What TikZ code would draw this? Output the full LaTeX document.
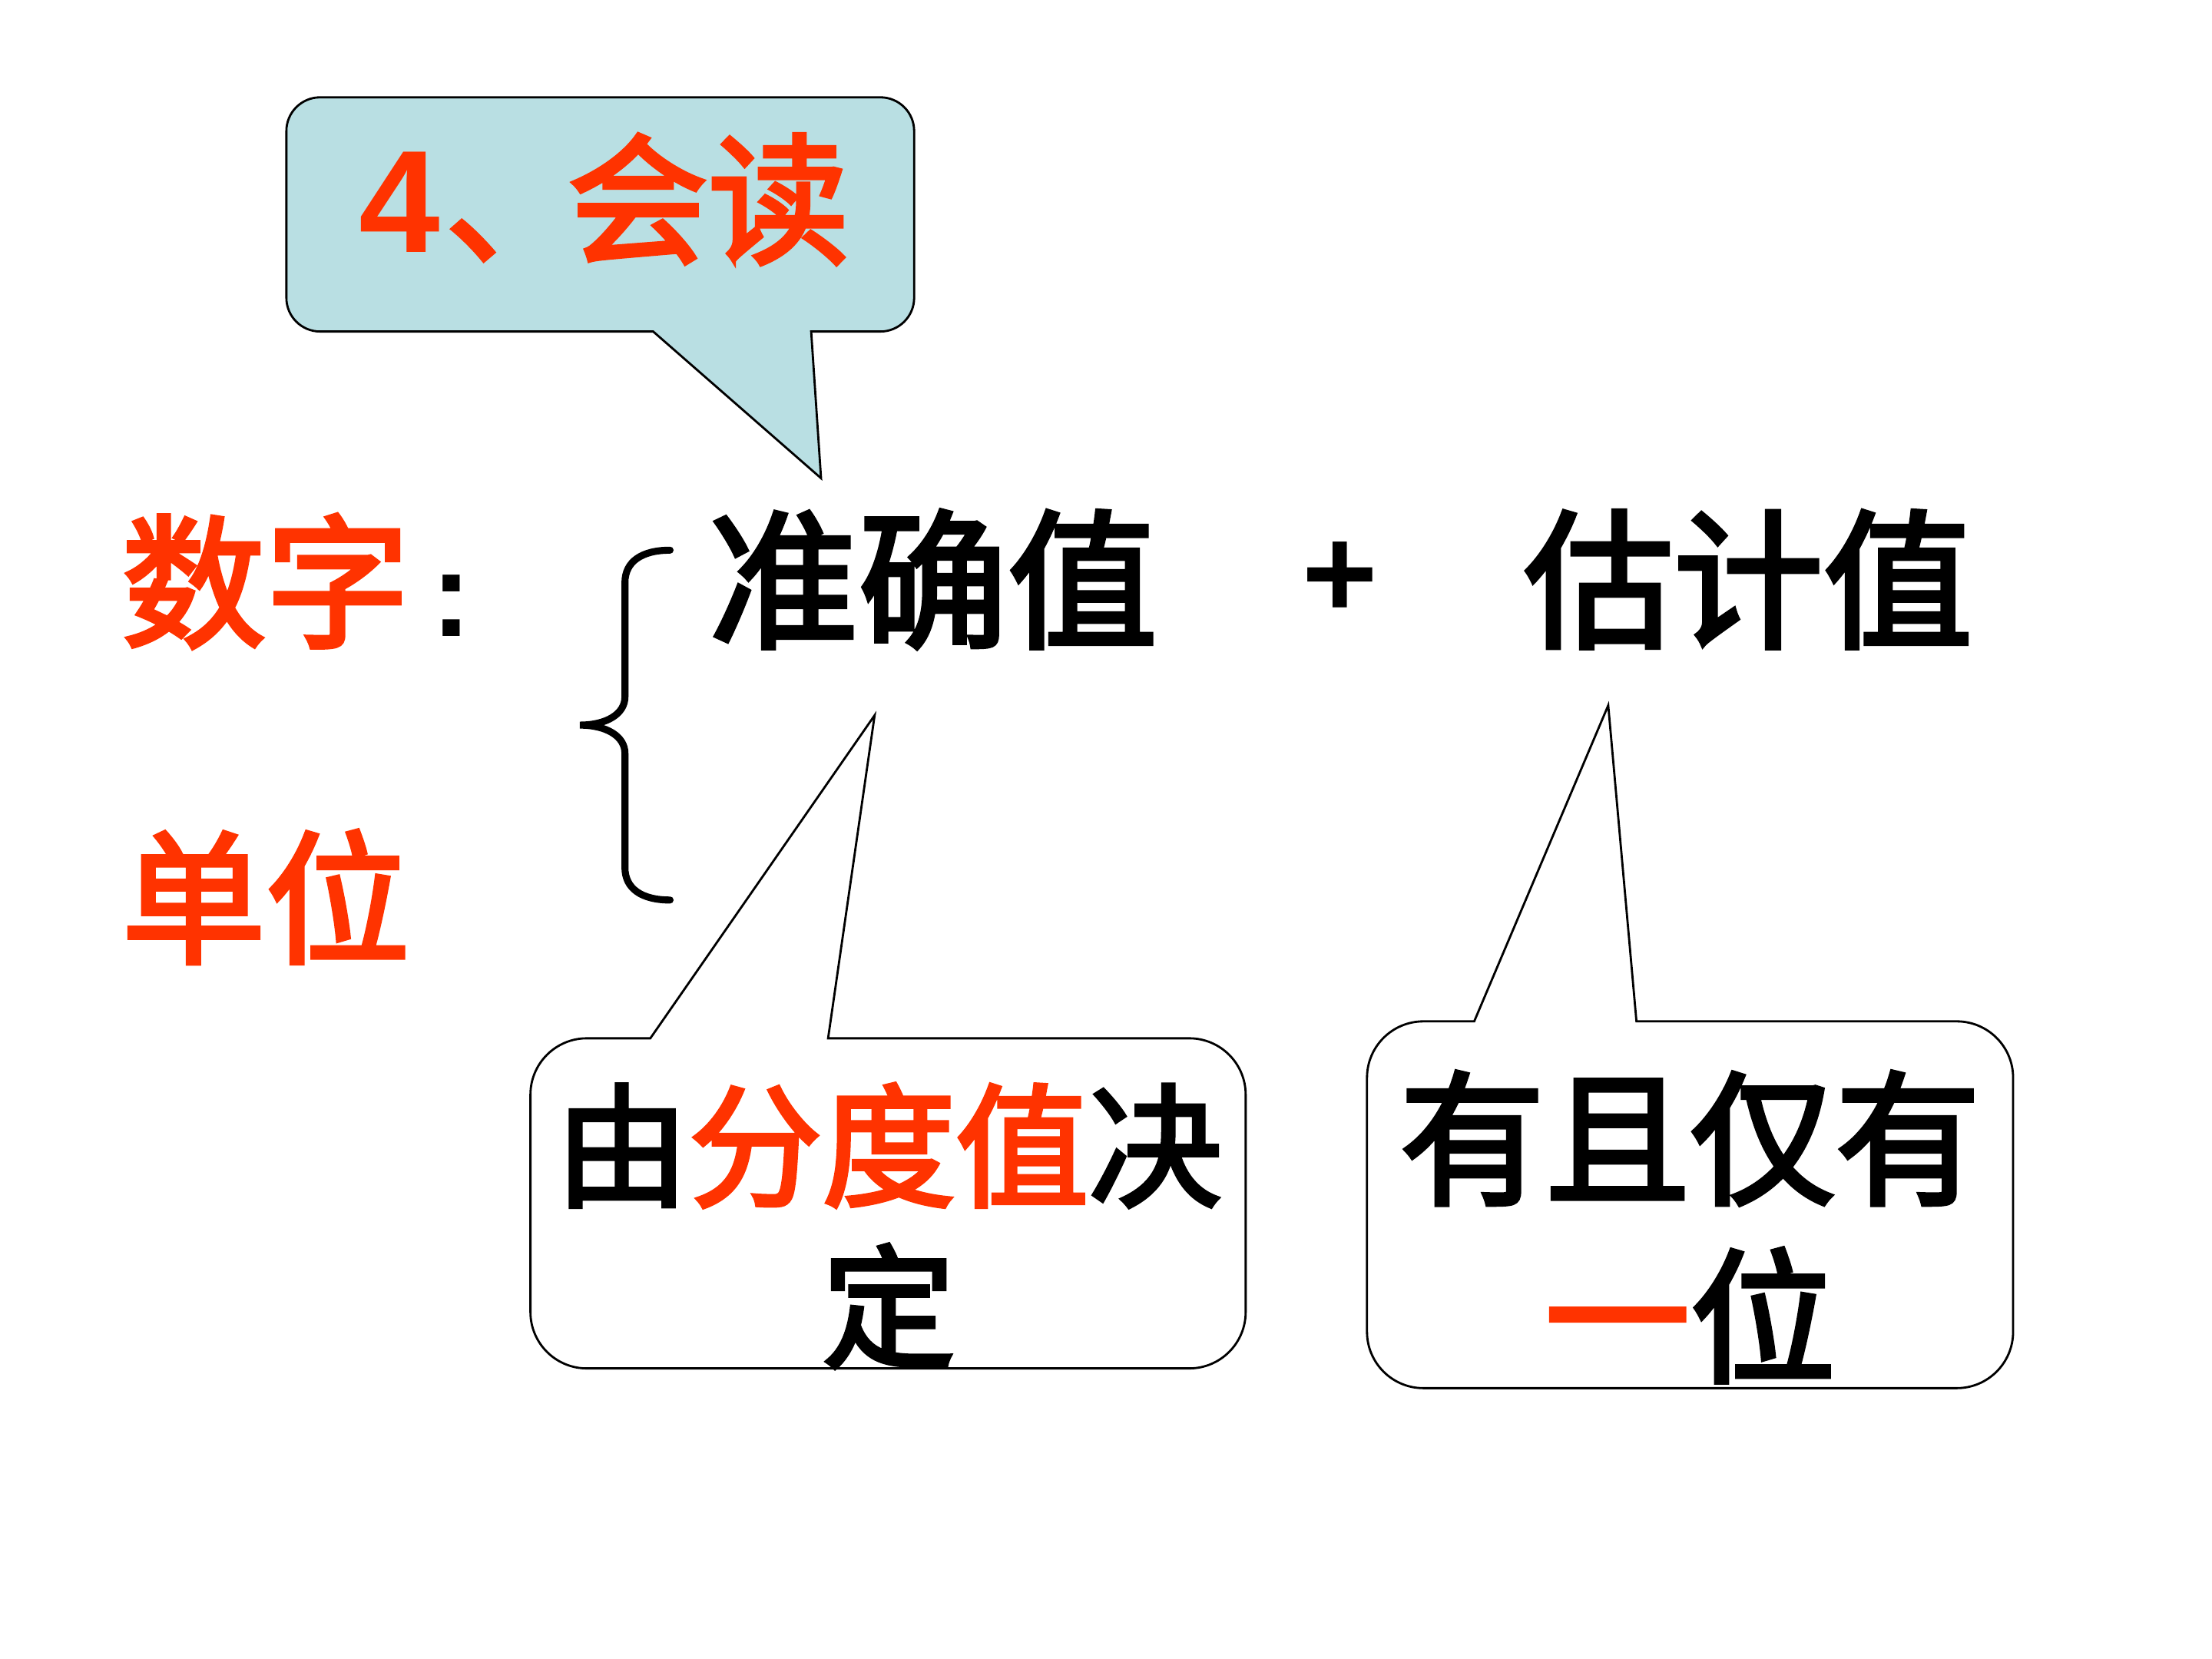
\documentclass[tikz,border=0pt]{standalone}
\usepackage{fontspec}
\setmainfont{Liberation Sans}
\newfontfamily\cjk{Noto Sans CJK SC}[FakeBold=3]
\definecolor{hlred}{HTML}{FF3300}
\definecolor{tipblue}{HTML}{B9DFE3}

\begin{document}
\begin{tikzpicture}[x=0.0183673cm, y=-0.0183673cm,
  hanzi/.style={inner sep=0pt, font=\cjk\fontsize{#1}{#1}\selectfont},
  callout/.style={draw, line width=0.8pt, line join=miter},
  bracestroke/.style={line width=2.6pt, line cap=round}]
\useasboundingbox (0,0) rectangle (1568,1176);

% title bubble
\coordinate (readtip) at (582,339);
\filldraw[callout, fill=tipblue] (readtip) -- (575,235) [rounded corners=12.5pt] -- (648,235) -- (648,69) -- (203,69) -- (203,235) [sharp corners] -- (463,235) -- cycle;
\node[hanzi=52.2pt, anchor=base west, text=hlred] (read) at (254,179) {{\rmfamily\bfseries\fontsize{54pt}{54pt}\selectfont 4}\kern2pt 、\kern-7pt 会读};

% left labels
\node[hanzi=53.3pt, anchor=base west, text=hlred] (digits) at (86,451) {数字};
\node[inner sep=0pt, anchor=base, font=\bfseries\fontsize{45pt}{45pt}\selectfont] (colon) at (320,451) {:};
\node[hanzi=53.3pt, anchor=base west, text=hlred] (unit) at (86,675) {单位};

% brace
\draw[bracestroke] (475,390) .. controls (455,390) and (443,398) .. (443,413) -- (443,494)
  .. controls (443,506) and (430,514) .. (411,514) .. controls (430,514) and (443,522) .. (443,534)
  -- (443,615) .. controls (443,630) and (455,638) .. (475,638);

% main row
\node[hanzi=55.4pt, anchor=base west] (exact) at (502,451) {准确值};
\node[inner sep=0pt, font=\bfseries\fontsize{48pt}{48pt}\selectfont] (plus) at (950,411) {+};
\node[hanzi=55.4pt, anchor=base west] (estimate) at (1080,451) {估计值};

% bubble under the exact value
\coordinate (exacttip) at (620,507);
\filldraw[callout, fill=white] (exacttip) -- (587,736) [rounded corners=20.9pt] -- (883,736) -- (883,970) -- (376,970) -- (376,736) [sharp corners] -- (461,736) -- cycle;
\node[hanzi=49.4pt, anchor=base] (scaleA) at (630,848) {由\textcolor{hlred}{分度值}决};
\node[hanzi=49.4pt, anchor=base] (scaleB) at (630,962) {定};

% bubble under the estimate
\coordinate (estimatetip) at (1140,500);
\filldraw[callout, fill=white] (estimatetip) -- (1160,724) [rounded corners=20.9pt] -- (1427,724) -- (1427,984) -- (969,984) -- (969,724) [sharp corners] -- (1045,724) -- cycle;
\node[hanzi=53.8pt, anchor=base] (onlyA) at (1198,846) {有且仅有};
\node[hanzi=53.8pt, anchor=base] (onlyB) at (1198,972) {\textcolor{hlred}{一}位};
\end{tikzpicture}
\end{document}
